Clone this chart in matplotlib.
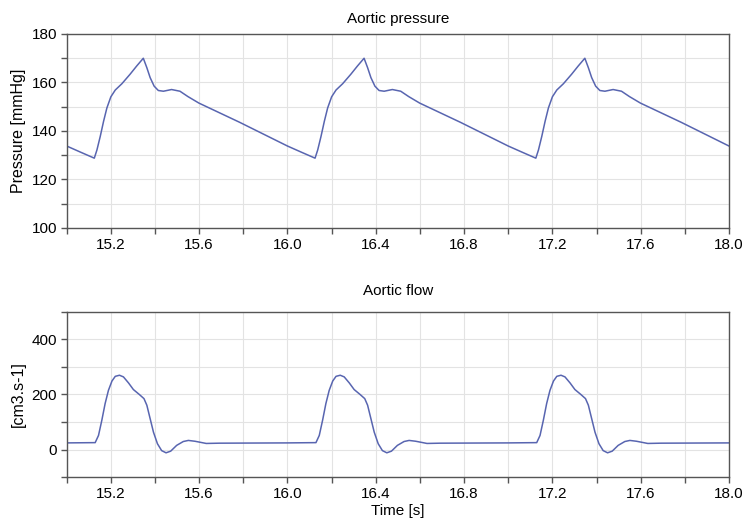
import numpy as np
import matplotlib
matplotlib.use('Agg')
import matplotlib.pyplot as plt
from matplotlib.ticker import MultipleLocator

# aortic pressure [mmHg] (three identical beats)
p_time = [15.000, 15.062, 15.125, 15.137, 15.152, 15.167, 15.182, 15.200, 15.220, 15.250,
          15.287, 15.317, 15.347, 15.363, 15.378, 15.396, 15.415, 15.438, 15.475, 15.513,
          15.549, 15.599, 15.783,
          16.000, 16.062, 16.125, 16.137, 16.152, 16.167, 16.182, 16.200, 16.220, 16.250,
          16.287, 16.317, 16.347, 16.363, 16.378, 16.396, 16.415, 16.438, 16.475, 16.513,
          16.549, 16.599, 16.783,
          17.000, 17.062, 17.125, 17.137, 17.152, 17.167, 17.182, 17.200, 17.220, 17.250,
          17.287, 17.317, 17.347, 17.363, 17.378, 17.396, 17.415, 17.438, 17.475, 17.513,
          17.549, 17.599, 17.783,
          18.000]
p_val = [133.8, 131.3, 128.8, 132.2, 137.8, 144.0, 149.5, 154.1, 156.9, 159.5,
         163.4, 166.8, 170.0, 166.1, 162.0, 158.5, 156.7, 156.4, 157.1, 156.4,
         154.2, 151.5, 143.6,
         133.8, 131.3, 128.8, 132.2, 137.8, 144.0, 149.5, 154.1, 156.9, 159.5,
         163.4, 166.8, 170.0, 166.1, 162.0, 158.5, 156.7, 156.4, 157.1, 156.4,
         154.2, 151.5, 143.6,
         133.8, 131.3, 128.8, 132.2, 137.8, 144.0, 149.5, 154.1, 156.9, 159.5,
         163.4, 166.8, 170.0, 166.1, 162.0, 158.5, 156.7, 156.4, 157.1, 156.4,
         154.2, 151.5, 143.6,
         133.8]

# aortic flow [cm3/s]
f_time = [15.000, 15.129, 15.144, 15.159, 15.174, 15.189, 15.205, 15.220, 15.239, 15.257,
          15.280, 15.302, 15.329, 15.350, 15.363, 15.378, 15.393, 15.411, 15.430, 15.450,
          15.471, 15.498, 15.528, 15.551, 15.581, 15.632, 15.692,
          16.000, 16.129, 16.144, 16.159, 16.174, 16.189, 16.205, 16.220, 16.239, 16.257,
          16.280, 16.302, 16.329, 16.350, 16.363, 16.378, 16.393, 16.411, 16.430, 16.450,
          16.471, 16.498, 16.528, 16.551, 16.581, 16.632, 16.692,
          17.000, 17.129, 17.144, 17.159, 17.174, 17.189, 17.205, 17.220, 17.239, 17.257,
          17.280, 17.302, 17.329, 17.350, 17.363, 17.378, 17.393, 17.411, 17.430, 17.450,
          17.471, 17.498, 17.528, 17.551, 17.581, 17.632, 17.692,
          18.000]
f_val = [24, 25, 51, 106, 167, 215, 249, 266, 270, 264,
         242, 218, 200, 185, 161, 112, 63, 21, -4, -12,
         -6, 15, 29, 33, 30, 22, 23,
         24, 25, 51, 106, 167, 215, 249, 266, 270, 264,
         242, 218, 200, 185, 161, 112, 63, 21, -4, -12,
         -6, 15, 29, 33, 30, 22, 23,
         24, 25, 51, 106, 167, 215, 249, 266, 270, 264,
         242, 218, 200, 185, 161, 112, 63, 21, -4, -12,
         -6, 15, 29, 33, 30, 22, 23,
         24]

x_ticks = [15.2, 15.6, 16.0, 16.4, 16.8, 17.2, 17.6, 18.0]

line_col = '#5865b0'
spine_col = '#555555'
grid_col = '#e3e3e3'

plt.rcParams['font.family'] = ['Liberation Sans', 'DejaVu Sans']
plt.rcParams['font.size'] = 11

fig = plt.figure(figsize=(7.47, 5.19), dpi=100)
ax1 = fig.add_axes([0.0893, 0.5607, 0.8866, 0.3738])
ax2 = fig.add_axes([0.0893, 0.0809, 0.8866, 0.3180])


def style(ax):
    ax.set_xlim(15.0, 18.0)
    ax.xaxis.set_minor_locator(MultipleLocator(0.2))
    ax.set_xticks(x_ticks)
    ax.set_xticklabels(['%.1f' % v for v in x_ticks])
    ax.grid(True, which='both', color=grid_col, linewidth=0.8)
    ax.set_axisbelow(True)
    for s in ax.spines.values():
        s.set_color(spine_col)
        s.set_linewidth(1.0)
    ax.tick_params(which='both', direction='out', color=spine_col, length=4, width=1,
                   top=False, right=False, labelsize=11, pad=3)


ax1.plot(p_time, p_val, color=line_col, linewidth=1.1)
style(ax1)
ax1.set_ylim(100, 180)
ax1.yaxis.set_major_locator(MultipleLocator(20))
ax1.yaxis.set_minor_locator(MultipleLocator(10))
ax1.set_ylabel('Pressure [mmHg]', fontsize=11.5, labelpad=4)
ax1.set_title('Aortic pressure', fontsize=11, pad=8)

ax2.plot(f_time, f_val, color=line_col, linewidth=1.1)
style(ax2)
ax2.set_ylim(-100, 500)
ax2.yaxis.set_major_locator(MultipleLocator(200))
ax2.yaxis.set_minor_locator(MultipleLocator(100))
ax2.set_ylabel('[cm3.s-1]', fontsize=11.5, labelpad=4)
ax2.set_title('Aortic flow', fontsize=11, pad=12)
ax2.set_xlabel('Time [s]', fontsize=11, labelpad=2)

fig.savefig('out.png', dpi=100)
